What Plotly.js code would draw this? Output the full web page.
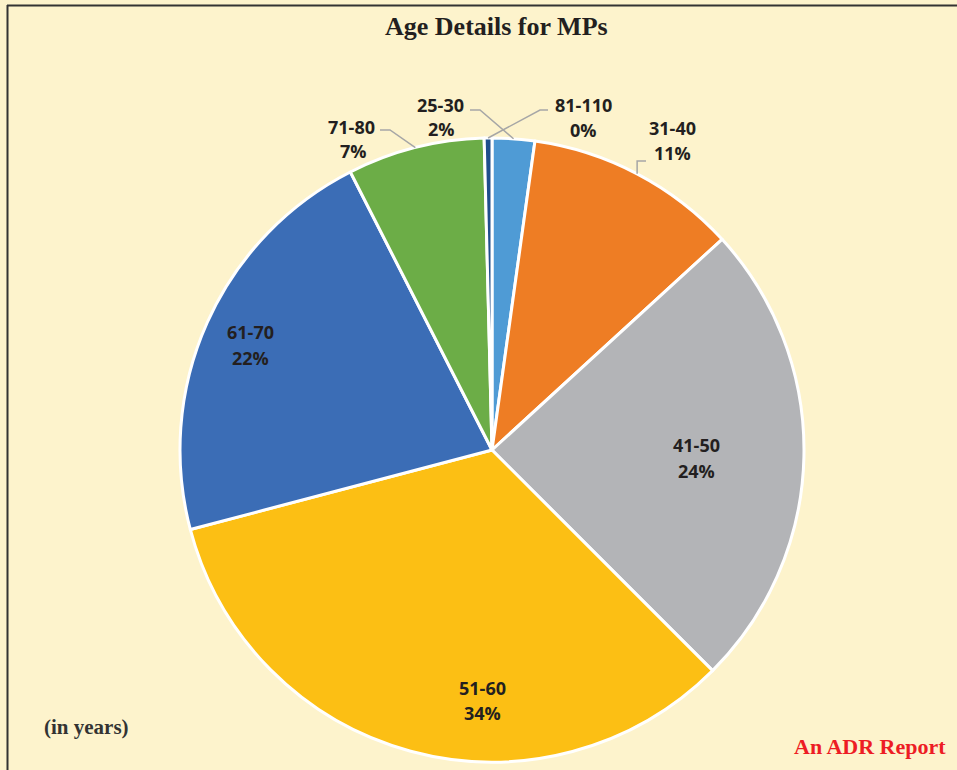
<!DOCTYPE html>
<html>
<head>
<meta charset="utf-8">
<script src="https://cdn.plot.ly/plotly-3.0.1.min.js"></script>
<style>html,body{margin:0;padding:0;background:#FDF3CC;}</style>
</head>
<body>
<div id="chart" style="width:957px;height:770px;"></div>
<script>
// ---- data ----
const ageGroups = ['25-30', '31-40', '41-50', '51-60', '61-70', '71-80', '81-110'];
const shares = [2.2, 11.0, 24.3, 33.4, 21.6, 7.1, 0.4];
const shareLabels = ['2%', '11%', '24%', '34%', '22%', '7%', '0%'];

// ---- style ----
const sliceColors = ['#4F9BD5', '#EE7D24', '#B3B4B7', '#FCBF14', '#3B6DB6', '#6CAD47', '#1F4E8C'];
const W = 957, H = 770;
const CX = 492, CY = 450, R = 312;
const px = x => x / W;
const py = y => 1 - y / H;

// label placements (pixel centres of the two text lines)
const labelPos = {
  '25-30':  {l1: [440, 105], l2: [441, 129]},
  '31-40':  {l1: [672, 128], l2: [672, 153]},
  '41-50':  {l1: [696, 445], l2: [696, 471]},
  '51-60':  {l1: [483, 688], l2: [483, 713]},
  '61-70':  {l1: [250, 332], l2: [250, 358]},
  '71-80':  {l1: [351, 127], l2: [353, 151]},
  '81-110': {l1: [583, 105], l2: [583, 130]}
};

// slice mid-points on the rim, from the data
const total = shares.reduce((a, b) => a + b, 0);
const rimPoint = {};
let cum = 0;
shares.forEach((v, i) => {
  const mid = (cum + v / 2) / total * 2 * Math.PI;
  rimPoint[ageGroups[i]] = [CX + R * Math.sin(mid), CY - R * Math.cos(mid)];
  cum += v;
});

const labelFont = {family: 'Open Sans, DejaVu Sans, sans-serif', size: 18, color: '#231F20'};
const annotations = [];
ageGroups.forEach((g, i) => {
  const p = labelPos[g];
  annotations.push({xref: 'paper', yref: 'paper', x: px(p.l1[0]), y: py(p.l1[1]), text: '<b>' + g + '</b>',
    showarrow: false, xanchor: 'center', yanchor: 'middle', font: labelFont});
  annotations.push({xref: 'paper', yref: 'paper', x: px(p.l2[0]), y: py(p.l2[1]), text: '<b>' + shareLabels[i] + '</b>',
    showarrow: false, xanchor: 'center', yanchor: 'middle', font: labelFont});
});
annotations.push({xref: 'paper', yref: 'paper', x: px(496), y: py(27), text: '<b>Age Details for MPs</b>',
  showarrow: false, xanchor: 'center', yanchor: 'middle',
  font: {family: 'Liberation Serif, Times New Roman, serif', size: 26, color: '#231F20'}});
annotations.push({xref: 'paper', yref: 'paper', x: px(42), y: py(727), text: '<b>(in years)</b>',
  showarrow: false, xanchor: 'left', yanchor: 'middle',
  font: {family: 'Liberation Serif, Times New Roman, serif', size: 21, color: '#333333'}});
annotations.push({xref: 'paper', yref: 'paper', x: px(948), y: py(746), text: '<b>An ADR Report</b>',
  showarrow: false, xanchor: 'right', yanchor: 'middle',
  font: {family: 'Liberation Serif, Times New Roman, serif', size: 22, color: '#ED1C24'}});

// leader lines
const leaderColor = '#A6A6A6';
function pathFrom(pts) {
  return 'M ' + pts.map(p => px(p[0]) + ',' + py(p[1])).join(' L ');
}
const leaders = [
  [[470, 110], [480, 110], rimPoint['25-30']],
  [[548, 110], [540, 110], rimPoint['81-110']],
  [[380, 130], [390, 130], rimPoint['71-80']],
  [rimPoint['31-40'], [rimPoint['31-40'][0], 161], [646, 161]]
];
const shapes = leaders.map(pts => ({
  type: 'path', xref: 'paper', yref: 'paper', path: pathFrom(pts),
  line: {color: leaderColor, width: 1.5}
}));
// frame lines (top and left)
shapes.push({type: 'line', xref: 'paper', yref: 'paper', x0: px(7), x1: 1, y0: py(5.5), y1: py(5.5),
  line: {color: '#333333', width: 2}});
shapes.push({type: 'line', xref: 'paper', yref: 'paper', x0: px(7.5), x1: px(7.5), y0: py(5), y1: 0,
  line: {color: '#333333', width: 2}});

const trace = {
  type: 'pie',
  labels: ageGroups,
  values: shares,
  sort: false,
  direction: 'clockwise',
  rotation: 0,
  textinfo: 'none',
  hoverinfo: 'label+percent',
  marker: {colors: sliceColors, line: {color: '#FFFFFF', width: 3}},
  domain: {x: [px(CX - R), px(CX + R)], y: [py(CY + R), py(CY - R)]},
  showlegend: false
};

const layout = {
  width: W, height: H,
  margin: {l: 0, r: 0, t: 0, b: 0},
  paper_bgcolor: '#FDF3CC',
  plot_bgcolor: '#FDF3CC',
  showlegend: false,
  annotations: annotations,
  shapes: shapes
};

Plotly.newPlot('chart', [trace], layout, {displayModeBar: false, staticPlot: true});
</script>
</body>
</html>
